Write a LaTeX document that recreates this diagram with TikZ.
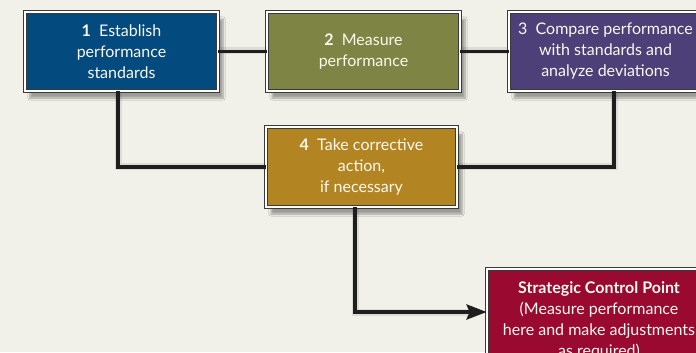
\documentclass[tikz,border=0pt]{standalone}
\usepackage{fontspec}
\setmainfont{Lato}
\usetikzlibrary{arrows.meta,shadows.blur,calc}
\definecolor{bg}{HTML}{F1F0E9}
\definecolor{cblue}{HTML}{034A7E}
\definecolor{colive}{HTML}{7E8544}
\definecolor{cpurple}{HTML}{4D3F78}
\definecolor{cgold}{HTML}{B38522}
\definecolor{cred}{HTML}{9A0A30}
\definecolor{edge}{HTML}{3A3A3A}
\definecolor{linec}{HTML}{1E1E1E}
\definecolor{txt}{HTML}{FBF8EE}
\definecolor{shd}{HTML}{DCDBD4}
\tikzset{
  box/.style={draw=edge, line width=0.8bp, double=white, double distance=2.4bp,
    text=txt, align=center, inner sep=0pt,
    font=\fontsize{16bp}{21bp}\selectfont,
    blur shadow={shadow xshift=5bp, shadow yshift=-7bp, shadow blur steps=8, shadow opacity=35}},
  conn/.style={draw=linec, line width=3.5bp},
  connshadow/.style={draw=shd, line width=7bp, xshift=4bp, yshift=-6bp},
}
\begin{document}
\begin{tikzpicture}[x=1bp,y=-1bp]
\fill[bg] (0,0) rectangle (696,352);
\useasboundingbox (0,0) rectangle (696,352);
\clip (0,0) rectangle (696,352);
% connector shadows (approximate positions, drawn before the boxes)
\coordinate (s1) at (118,91);
\coordinate (s2) at (614,91);
\coordinate (s3) at (355,207);
\coordinate (s4) at (266,166);
\coordinate (s5) at (457,166);
\coordinate (s6) at (475,312);
\coordinate (s7) at (218,50);
\coordinate (s8) at (509,50);
\draw[connshadow] (s7) -- (s8);
\draw[connshadow] (s1) |- (s4);
\draw[connshadow] (s2) |- (s5);
\draw[connshadow] (s3) |- (s6);
\node[box, fill=cblue, minimum width=193bp, minimum height=79bp] (b1) at (121.5,51.5)
  {\textbf{1}\ \ Establish\\performance\\standards};
\node[box, fill=colive, minimum width=193bp, minimum height=79bp] (b2) at (363.5,51.5)
  {\textbf{2}\ \ Measure\\performance};
\node[box, fill=cpurple, minimum width=193bp, minimum height=79bp] (b3) at (605.5,51.5)
  {3\ \ Compare performance\\with standards and\\analyze deviations};
\node[box, fill=cgold, minimum width=191bp, minimum height=80bp] (b4) at (361.5,167)
  {\textbf{4}\ \ Take corrective\\action,\\if necessary};
\node[box, fill=cred, minimum width=224bp, minimum height=102bp] (b5) at (599,320)
  {\textbf{Strategic Control Point}\\(Measure performance\\here and make adjustments\\as required)};
\draw[conn] (b1.east) -- (b2.west);
\draw[conn] (b2.east) -- (b3.west);
\draw[conn] ([xshift=-3.5bp]b1.south) |- (b4.west);
\draw[conn] ([xshift=8.5bp]b3.south) |- (b4.east);
\draw[conn, -{Stealth[length=20bp,width=15bp,inset=3bp]}] ([xshift=-6.5bp]b4.south) |- ([yshift=8bp]b5.west);
\end{tikzpicture}
\end{document}
